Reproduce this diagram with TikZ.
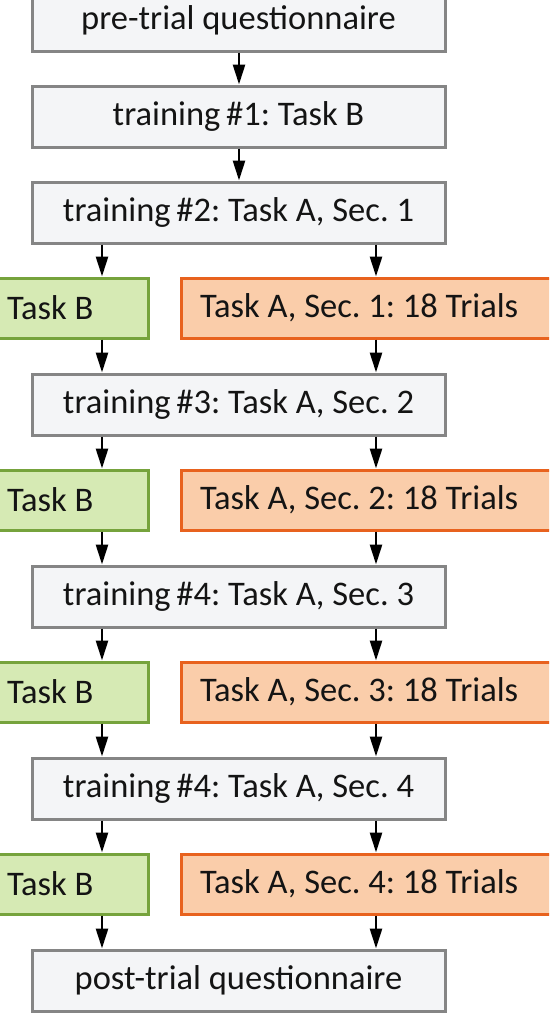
\documentclass[tikz,border=0pt]{standalone}
\usepackage{fontspec}
\setmainfont{Carlito}
\usetikzlibrary{arrows.meta}
\definecolor{grayfill}{HTML}{F4F5F7}
\definecolor{grayline}{HTML}{858585}
\definecolor{greenfill}{HTML}{D6EAB4}
\definecolor{greenline}{HTML}{76A33C}
\definecolor{orangefill}{HTML}{FACDAA}
\definecolor{orangeline}{HTML}{E8621E}
\definecolor{txt}{HTML}{141414}
\frenchspacing
\newcommand{\gtxt}[1]{\makebox[122pt][l]{#1}}
\newcommand{\otxt}[1]{\makebox[341pt][l]{#1}}
\begin{document}
\begin{tikzpicture}[x=1pt,y=-1pt,
  every node/.style={font=\fontsize{34.5}{40}\selectfont, text=txt},
  graybox/.style={draw=grayline, fill=grayfill, line width=3pt, minimum width=413pt, minimum height=61pt, inner sep=0pt},
  greenbox/.style={draw=greenline, fill=greenfill, line width=3pt, minimum height=60pt, inner xsep=19pt, inner ysep=0pt},
  orangebox/.style={draw=orangeline, fill=orangefill, line width=3pt, minimum height=60pt, inner xsep=19pt, inner ysep=0pt},
  arr/.style={line width=2.6pt, -{Triangle[length=20pt,width=12pt]}}]
\useasboundingbox (0,0) rectangle (549,1017);
\begin{scope}
\clip (0,0) rectangle (549,1017);
\node[graybox] (g0) at (238.5,20.5) {pre-trial questionnaire};
\node[graybox] (g1) at (238.5,116.5) {training\,\#1: Task B};
\node[graybox] (g2) at (238.5,212.5) {training\,\#2: Task A, Sec. 1};
\node[greenbox] (b1) at (68,308) {\gtxt{Task B}};
\node[orangebox] (a1) at (370.5,308) {\otxt{Task A, Sec. 1: 18 Trials}};
\node[graybox] (g3) at (238.5,404.5) {training\,\#3: Task A, Sec. 2};
\node[greenbox] (b2) at (68,500) {\gtxt{Task B}};
\node[orangebox] (a2) at (370.5,500) {\otxt{Task A, Sec. 2: 18 Trials}};
\node[graybox] (g4) at (238.5,596.5) {training\,\#4: Task A, Sec. 3};
\node[greenbox] (b3) at (68,692) {\gtxt{Task B}};
\node[orangebox] (a3) at (370.5,692) {\otxt{Task A, Sec. 3: 18 Trials}};
\node[graybox] (g5) at (238.5,788.5) {training\,\#4: Task A, Sec. 4};
\node[greenbox] (b4) at (68,884) {\gtxt{Task B}};
\node[orangebox] (a4) at (370.5,884) {\otxt{Task A, Sec. 4: 18 Trials}};
\node[graybox] (g6) at (238.5,980.5) {post-trial questionnaire};
\end{scope}
\coordinate (L) at (102,0);
\coordinate (R) at (376,0);
\coordinate (C) at (239,0);
\draw[arr] (g0.south -| C) -- (g1.north -| C);
\draw[arr] (g1.south -| C) -- (g2.north -| C);
\draw[arr] (g2.south -| L) -- (b1.north -| L);
\draw[arr] (g2.south -| R) -- (a1.north -| R);
\draw[arr] (b1.south -| L) -- (g3.north -| L);
\draw[arr] (a1.south -| R) -- (g3.north -| R);
\draw[arr] (g3.south -| L) -- (b2.north -| L);
\draw[arr] (g3.south -| R) -- (a2.north -| R);
\draw[arr] (b2.south -| L) -- (g4.north -| L);
\draw[arr] (a2.south -| R) -- (g4.north -| R);
\draw[arr] (g4.south -| L) -- (b3.north -| L);
\draw[arr] (g4.south -| R) -- (a3.north -| R);
\draw[arr] (b3.south -| L) -- (g5.north -| L);
\draw[arr] (a3.south -| R) -- (g5.north -| R);
\draw[arr] (g5.south -| L) -- (b4.north -| L);
\draw[arr] (g5.south -| R) -- (a4.north -| R);
\draw[arr] (b4.south -| L) -- (g6.north -| L);
\draw[arr] (a4.south -| R) -- (g6.north -| R);
\end{tikzpicture}
\end{document}
